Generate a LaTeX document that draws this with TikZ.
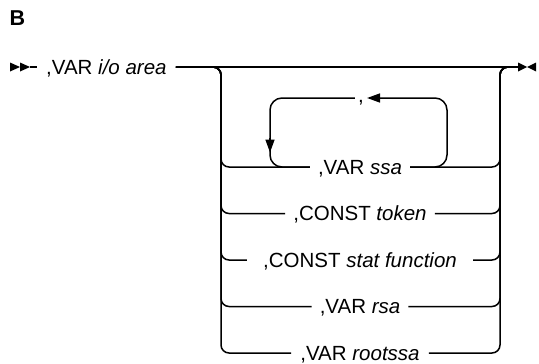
\documentclass[tikz,border=0pt]{standalone}
\usepackage{fontspec}
\setmainfont{Liberation Sans}
\usetikzlibrary{arrows.meta}
\tikzset{
  synline/.style={line width=1.5pt, black},
  synrail/.style={synline, rounded corners=8pt},
  synloop/.style={synline, rounded corners=12pt},
  synlbl/.style={font=\fontsize{20.5}{24}\selectfont, text height=14.6pt, text depth=0pt, inner ysep=0pt, inner xsep=8pt},
  syntip/.style={-{Triangle[length=13pt,width=9pt]}},
}

\begin{document}
\begin{tikzpicture}[x=1pt,y=-1pt]
\useasboundingbox (0,0) rectangle (539,364);
\node[font=\fontsize{21.5}{24}\selectfont\bfseries, anchor=base west, inner sep=0pt] (ttl) at (9.5,26) {B};
% start and end marks
\foreach \x in {10,20} \fill (\x,62.5) -- (\x+10,67) -- (\x,71.5) -- cycle;
\fill (518,62.5) -- (527,67) -- (518,71.5) -- cycle;
\fill (536,62.5) -- (527,67) -- (536,71.5) -- cycle;
\coordinate (beg) at (30,67);
\coordinate (fin) at (518,67);
\coordinate (lrail) at (221,67);
\coordinate (rrail) at (500,67);
\node[synlbl, anchor=west, inner xsep=9pt] (main) at (37,67) {,VAR \textit{i/o area}};
\draw[synline] (beg) -- (main.west);
\draw[synline] (main.east) -- (fin);
% choices
\foreach \y/\nm/\sep/\txt in {167/r1/8pt/{,VAR \textit{ssa}},
                             213.5/r2/8pt/{,CONST \textit{token}},
                             260/r3/16pt/{,CONST \textit{stat function}},
                             306.5/r4/8pt/{,VAR \textit{rsa}},
                             353/r5/9pt/{,VAR \textit{rootssa}}}{
  \node[synlbl, inner xsep=\sep] (\nm) at (360,\y) {\txt};
  \draw[synrail] (main.east) -- (lrail) -- (lrail |- \nm) -- (\nm.west);
  \draw[synrail] (\nm.east) -- (rrail |- \nm) -- (rrail) -- (fin);
}
% repeat loop
\coordinate (lpL) at (270,98);
\coordinate (lpR) at (447,98);
\node[font=\fontsize{20.5}{24}\selectfont, inner xsep=3pt, inner ysep=0pt, anchor=base] (cm) at (361,102) {,};
\draw[synloop] (cm.west |- lpL) -- (lpL) -- (lpL |- r1) -- (r1.west);
\draw[synloop, syntip] (r1.east) -- (lpR |- r1) -- (lpR) -- (cm.east |- lpR);
\draw[synline, syntip] (270,138) -- (270,152.5);
\end{tikzpicture}
\end{document}
